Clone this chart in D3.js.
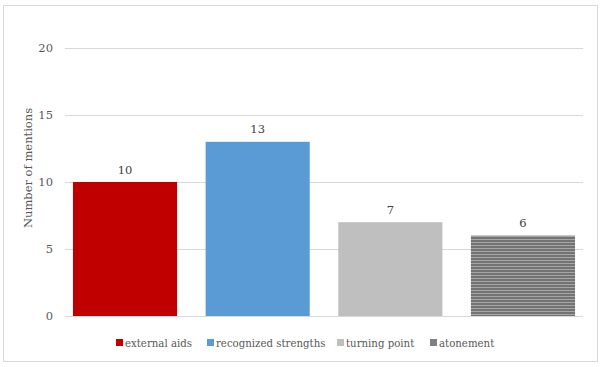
<!DOCTYPE html>
<html>
<head>
<meta charset="utf-8">
<script src="https://cdn.jsdelivr.net/npm/d3@7"></script>
<style>
  body { margin: 0; background: #fff; }
</style>
</head>
<body>
<svg class="chart" width="605" height="367"></svg>
<script>
const categories = ["external aids", "recognized strengths", "turning point", "atonement"];
const mentions = [10, 13, 7, 6];
const yTicks = [0, 5, 10, 15, 20];
const fills = ["#C00000", "#5B9BD5", "#BFBFBF", "url(#stripes)"];
const swatchFills = ["#C00000", "#5B9BD5", "#BFBFBF", "#808080"];
const fontFamily = "DejaVu Serif";

const svg = d3.select('.chart').attr('font-family', fontFamily);
const margin = { top: 48, right: 22, bottom: 51, left: 65 };
const width = 605 - margin.left - margin.right;
const height = 367 - margin.top - margin.bottom;

// striped fill for the last bar
const pat = svg.append('defs').append('pattern')
  .attr('id', 'stripes')
  .attr('patternUnits', 'userSpaceOnUse')
  .attr('width', 4).attr('height', 3);
pat.append('rect').attr('width', 4).attr('height', 3).attr('fill', '#a6a6a6');
pat.append('rect').attr('width', 4).attr('height', 2).attr('fill', '#737373');

// outer frame
svg.append('rect')
  .attr('x', 3.5).attr('y', 5.5)
  .attr('width', 594).attr('height', 356)
  .attr('fill', 'none')
  .attr('stroke', '#d9d9d9');

const g = svg.append('g').attr('transform', `translate(${margin.left},${margin.top})`);

const x = d3.scaleBand()
  .domain(categories)
  .range([0, width])
  .paddingInner(0.215)
  .paddingOuter(0.06);

const y = d3.scaleLinear().domain([0, 20]).range([height, 0]);

// gridlines + tick labels
const yAxis = g.append('g')
  .call(d3.axisLeft(y).tickValues(yTicks).tickSize(-width).tickPadding(12));
yAxis.attr('font-family', fontFamily).attr('font-size', 11.5);
yAxis.select('.domain').remove();
yAxis.selectAll('.tick line').attr('stroke', '#d9d9d9');
yAxis.selectAll('.tick text').attr('fill', '#595959');

g.selectAll('.bar')
  .data(mentions)
  .join('rect')
  .attr('class', 'bar')
  .attr('x', (d, i) => x(categories[i]))
  .attr('y', d => y(d))
  .attr('width', x.bandwidth())
  .attr('height', d => height - y(d))
  .attr('fill', (d, i) => fills[i]);

g.selectAll('.val')
  .data(mentions)
  .join('text')
  .attr('class', 'val')
  .attr('x', (d, i) => x(categories[i]) + x.bandwidth() / 2)
  .attr('y', d => y(d) - 8.5)
  .attr('text-anchor', 'middle')
  .attr('font-size', 11.5)
  .attr('fill', '#404040')
  .text(d => d);

// axis title
svg.append('text')
  .attr('transform', 'translate(32,168) rotate(-90)')
  .attr('text-anchor', 'middle')
  .attr('font-size', 11.5)
  .attr('fill', '#595959')
  .text('Number of mentions');

// legend
const legendX = [116, 207, 337, 430];
const legend = svg.append('g').attr('transform', 'translate(0,343)');
const items = legend.selectAll('g')
  .data(categories)
  .join('g')
  .attr('transform', (d, i) => `translate(${legendX[i]},0)`);
items.append('rect')
  .attr('x', 0).attr('y', -4)
  .attr('width', 7).attr('height', 7)
  .attr('fill', (d, i) => swatchFills[i]);
items.append('text')
  .attr('x', 9).attr('y', 3.5)
  .attr('font-size', 10.2)
  .attr('fill', '#595959')
  .text(d => d);
</script>
</body>
</html>
